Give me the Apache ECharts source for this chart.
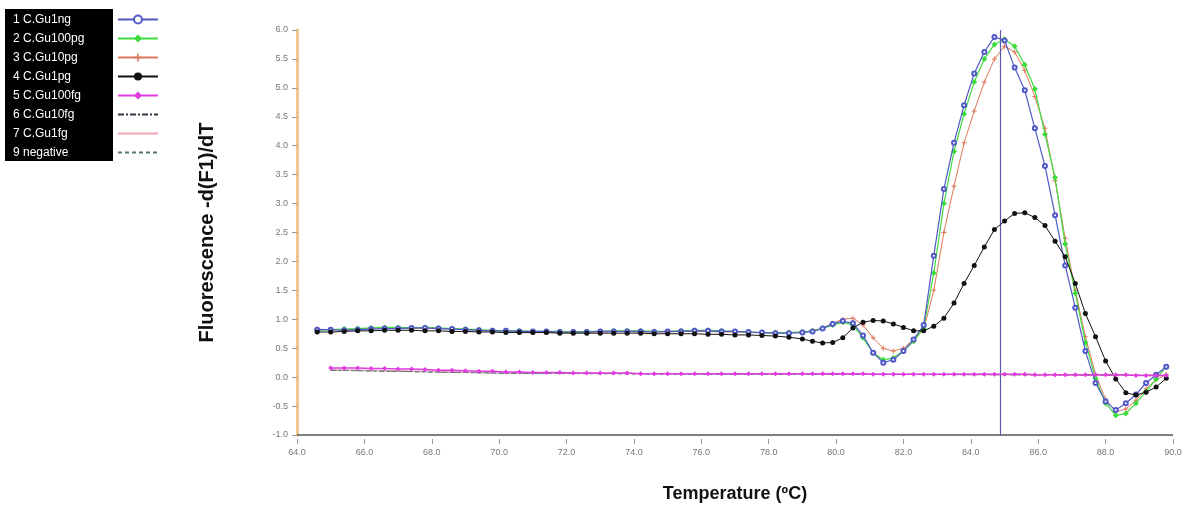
<!DOCTYPE html>
<html>
<head>
<meta charset="utf-8">
<script src="https://cdn.jsdelivr.net/npm/echarts@6/dist/echarts.min.js"></script>
<style>
  html, body { margin: 0; padding: 0; background: #fff; }
  #chart { width: 1190px; height: 509px; }
</style>
</head>
<body>
<div id="chart"></div>
<script>
// temperatures (deg C) shared by the sample curves
var temps = [64.6, 65.0, 65.4, 65.8, 66.2, 66.6, 67.0, 67.4, 67.8, 68.2, 68.6, 69.0, 69.4, 69.8,
    70.2, 70.6, 71.0, 71.4, 71.8, 72.2, 72.6, 73.0, 73.4, 73.8, 74.2, 74.6, 75.0, 75.4, 75.8,
    76.2, 76.6, 77.0, 77.4, 77.8, 78.2, 78.6, 79.0,
    79.3, 79.6, 79.9, 80.2, 80.5, 80.8, 81.1, 81.4, 81.7, 82.0, 82.3, 82.6, 82.9, 83.2, 83.5,
    83.8, 84.1, 84.4, 84.7, 85.0, 85.3, 85.6, 85.9, 86.2, 86.5, 86.8, 87.1, 87.4, 87.7, 88.0,
    88.3, 88.6, 88.9, 89.2, 89.5, 89.8];

var gu1ng = [0.82, 0.82, 0.81, 0.82, 0.83, 0.84, 0.84, 0.85, 0.85, 0.84, 0.83, 0.82, 0.81, 0.8,
    0.8, 0.79, 0.79, 0.79, 0.78, 0.78, 0.78, 0.79, 0.79, 0.79, 0.79, 0.78, 0.79, 0.79, 0.8,
    0.8, 0.79, 0.79, 0.78, 0.77, 0.76, 0.76, 0.77,
    0.79, 0.84, 0.92, 0.97, 0.93, 0.72, 0.42, 0.25, 0.3, 0.45, 0.65, 0.9, 2.1, 3.25, 4.05,
    4.7, 5.25, 5.62, 5.88, 5.82, 5.35, 4.96, 4.3, 3.65, 2.8, 1.93, 1.2, 0.45, -0.1, -0.42,
    -0.57, -0.45, -0.3, -0.1, 0.04, 0.18];

var gu100pg = [0.81, 0.82, 0.83, 0.84, 0.85, 0.86, 0.86, 0.85, 0.86, 0.85, 0.84, 0.83, 0.82, 0.81,
    0.8, 0.8, 0.79, 0.79, 0.79, 0.78, 0.79, 0.79, 0.8, 0.8, 0.8, 0.79, 0.79, 0.8, 0.81,
    0.81, 0.8, 0.79, 0.78, 0.77, 0.77, 0.77, 0.78,
    0.8, 0.84, 0.9, 0.95, 0.9, 0.68, 0.42, 0.3, 0.33, 0.45, 0.62, 0.85, 1.8, 3.0, 3.9,
    4.55, 5.1, 5.5, 5.75, 5.84, 5.72, 5.4, 4.98, 4.2, 3.45, 2.3, 1.45, 0.6, -0.02, -0.45,
    -0.66, -0.63, -0.45, -0.25, -0.03, 0.18];

var gu10pg = [0.83, 0.82, 0.82, 0.83, 0.84, 0.85, 0.85, 0.84, 0.84, 0.84, 0.83, 0.82, 0.81, 0.8,
    0.8, 0.79, 0.79, 0.78, 0.78, 0.78, 0.78, 0.78, 0.79, 0.79, 0.78, 0.78, 0.78, 0.79, 0.79,
    0.79, 0.78, 0.78, 0.77, 0.77, 0.76, 0.77, 0.78,
    0.8, 0.85, 0.93, 1.0, 1.02, 0.9, 0.68, 0.5, 0.45, 0.5, 0.65, 0.82, 1.5, 2.5, 3.3,
    4.05, 4.6, 5.1, 5.5, 5.72, 5.62, 5.3, 4.85, 4.3, 3.4, 2.4, 1.5, 0.7, 0.05, -0.38,
    -0.6, -0.55, -0.4, -0.2, -0.05, 0.05];

var gu1pg = [0.78, 0.78, 0.79, 0.8, 0.8, 0.81, 0.81, 0.81, 0.8, 0.8, 0.79, 0.79, 0.78, 0.78,
    0.77, 0.77, 0.77, 0.77, 0.76, 0.76, 0.76, 0.76, 0.76, 0.76, 0.76, 0.75, 0.75, 0.75, 0.75,
    0.74, 0.74, 0.73, 0.73, 0.72, 0.71, 0.69, 0.66,
    0.62, 0.59, 0.6, 0.68, 0.85, 0.95, 0.98, 0.97, 0.92, 0.86, 0.8, 0.8, 0.88, 1.02, 1.28,
    1.62, 1.93, 2.25, 2.55, 2.7, 2.83, 2.84, 2.76, 2.62, 2.35, 2.08, 1.62, 1.1, 0.7, 0.28,
    -0.03, -0.27, -0.31, -0.26, -0.17, -0.02];

var gu100fg = [null, 0.16, 0.16, 0.16, 0.15, 0.15, 0.14, 0.14, 0.13, 0.12, 0.12, 0.11, 0.1, 0.1,
    0.09, 0.09, 0.08, 0.08, 0.08, 0.07, 0.07, 0.07, 0.07, 0.07, 0.06, 0.06, 0.06, 0.06, 0.06,
    0.06, 0.06, 0.06, 0.06, 0.06, 0.06, 0.06, 0.06,
    0.06, 0.06, 0.06, 0.06, 0.06, 0.06, 0.05, 0.05, 0.05, 0.05, 0.05, 0.05, 0.05, 0.05, 0.05,
    0.05, 0.05, 0.05, 0.05, 0.05, 0.05, 0.05, 0.04, 0.04, 0.04, 0.04, 0.04, 0.04, 0.04, 0.04,
    0.04, 0.04, 0.03, 0.03, 0.03, 0.03];

// the low curves hidden under 5 C.Gu100fg
var lowTemps = [65.0, 70.0, 75.0, 80.0, 85.0, 89.8];
var gu10fg = [0.12, 0.07, 0.06, 0.05, 0.05, 0.03];
var gu1fg = [0.13, 0.08, 0.06, 0.05, 0.04, 0.03];
var negative = [0.12, 0.07, 0.05, 0.05, 0.04, 0.03];

var names = ['1 C.Gu1ng', '2 C.Gu100pg', '3 C.Gu10pg', '4 C.Gu1pg',
    '5 C.Gu100fg', '6 C.Gu10fg', '7 C.Gu1fg', '9 negative'];
var meltTemp = 84.86;

function pairs(xs, ys) {
    return xs.map(function (x, i) { return [x, ys[i]]; });
}

var plus = 'path://M4,0h2v4h4v2h-4v4h-2v-4h-4v-2h4z';

var chart = echarts.init(document.getElementById('chart'));

var legendBase = {
    orient: 'vertical',
    top: 8,
    itemHeight: 10, itemGap: 6,
    selectedMode: false
};

// the last three samples have plain lines in the key, no marker
var iconData = names.map(function (n, i) {
    return i < 5 ? n : { name: n, itemStyle: { opacity: 0 } };
});

var option = {
    animation: false,
    backgroundColor: '#fff',
    graphic: [{
        type: 'rect',
        left: 5, top: 9,
        shape: { width: 108, height: 152 },
        style: { fill: '#000' },
        z: -1
    }],
    legend: [
        // names in the black box
        Object.assign({}, legendBase, {
            data: names,
            left: 3, itemWidth: 0, icon: 'rect',
            textStyle: { color: '#fff', fontSize: 12, lineHeight: 13, fontFamily: 'Liberation Sans' }
        }),
        // line samples to the right of the box
        Object.assign({}, legendBase, {
            data: iconData,
            left: 112, itemWidth: 40,
            formatter: function () { return ' '; },
            textStyle: { fontSize: 12, lineHeight: 13, fontFamily: 'Liberation Sans' }
        })
    ],
    grid: { left: 297, right: 17, top: 30, bottom: 74 },
    xAxis: {
        type: 'value',
        min: 64, max: 90, interval: 2,
        offset: 4,
        name: 'Temperature (ºC)',
        nameLocation: 'middle',
        nameGap: 46,
        nameTextStyle: { fontSize: 18, fontWeight: 'bold', color: '#111', fontFamily: 'Liberation Sans' },
        axisLine: { show: false, onZero: false },
        axisTick: { length: 5, lineStyle: { color: '#999' } },
        axisLabel: { margin: 9, fontSize: 9, color: '#777', formatter: function (v) { return v.toFixed(1); } },
        splitLine: { show: false }
    },
    yAxis: {
        type: 'value',
        min: -1, max: 6, interval: 0.5,
        name: 'Fluorescence -d(F1)/dT',
        nameLocation: 'middle',
        nameGap: 80,
        nameTextStyle: { fontSize: 20, fontWeight: 'bold', color: '#111', fontFamily: 'Liberation Sans' },
        axisLine: { show: true, onZero: false, lineStyle: { color: '#f4c58f', width: 3 } },
        axisTick: { show: true, length: 5, lineStyle: { color: '#999' } },
        axisLabel: { margin: 9, fontSize: 9, color: '#777', formatter: function (v) { return v.toFixed(1); } },
        splitLine: { show: false }
    },
    series: [
        {
            name: names[5], type: 'line', data: pairs(lowTemps, gu10fg), symbol: 'none',
            lineStyle: { color: '#334', width: 1, type: [6, 2, 2, 2] }, itemStyle: { color: '#334' }, z: 1
        },
        {
            name: names[6], type: 'line', data: pairs(lowTemps, gu1fg), symbol: 'none',
            lineStyle: { color: '#f2a6b4', width: 1 }, itemStyle: { color: '#f2a6b4' }, z: 1
        },
        {
            name: names[7], type: 'line', data: pairs(lowTemps, negative), symbol: 'none',
            lineStyle: { color: '#557777', width: 1, type: [4, 3] }, itemStyle: { color: '#557777' }, z: 1
        },
        {
            name: names[2], type: 'line', data: pairs(temps, gu10pg),
            symbol: plus, symbolSize: 5,
            lineStyle: { color: '#e0785c', width: 1 }, itemStyle: { color: '#e0785c' }, z: 2
        },
        {
            name: names[1], type: 'line', data: pairs(temps, gu100pg),
            symbol: 'diamond', symbolSize: 6,
            lineStyle: { color: '#3ddc3d', width: 1.2 }, itemStyle: { color: '#3ddc3d' }, z: 3
        },
        {
            name: names[0], type: 'line', data: pairs(temps, gu1ng),
            symbol: 'emptyCircle', symbolSize: 4,
            lineStyle: { color: '#5058c8', width: 1.2 }, itemStyle: { color: '#5058c8', borderWidth: 1 }, z: 4,
            markLine: {
                silent: true, symbol: 'none', label: { show: false },
                lineStyle: { color: '#5a5aa8', width: 1.2, type: 'solid' },
                data: [{ xAxis: meltTemp }]
            }
        },
        {
            name: names[3], type: 'line', data: pairs(temps, gu1pg),
            symbol: 'circle', symbolSize: 5,
            lineStyle: { color: '#111', width: 1 }, itemStyle: { color: '#111' }, z: 5,
            markLine: {
                silent: true, symbol: 'none', label: { show: false },
                lineStyle: { color: '#555', width: 1.5, type: 'solid' },
                data: [[{ coord: [64, -1] }, { coord: [90, -1] }]]
            }
        },
        {
            name: names[4], type: 'line', data: pairs(temps, gu100fg),
            symbol: 'diamond', symbolSize: 5,
            lineStyle: { color: '#e03ce0', width: 1.5 }, itemStyle: { color: '#e03ce0' }, z: 6
        }
    ]
};

chart.setOption(option);
</script>
</body>
</html>
